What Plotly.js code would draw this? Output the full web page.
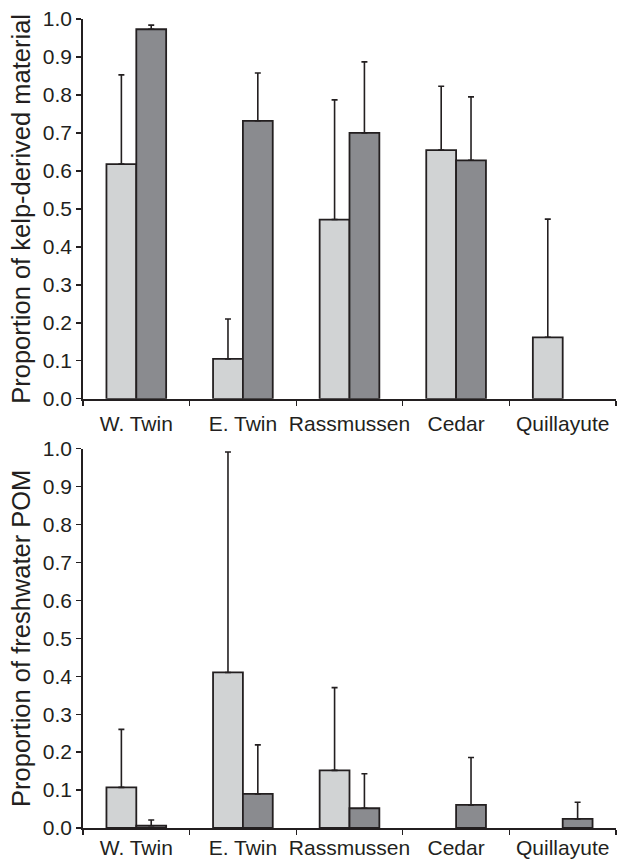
<!DOCTYPE html>
<html>
<head>
<meta charset="utf-8">
<script src="https://cdn.plot.ly/plotly-3.0.1.min.js"></script>
<style>html,body{margin:0;padding:0;background:#fff;}#chart{width:617px;height:863px;}</style>
</head>
<body>
<div id="chart"></div>
<script>
const sites = ["W. Twin", "E. Twin", "Rassmussen", "Cedar", "Quillayute"];

// Top panel: proportion of kelp-derived material
const kelpLight = [0.618, 0.105, 0.472, 0.655, 0.162];
const kelpLightErrTop = [0.853, 0.210, 0.787, 0.823, 0.473];
const kelpDark = [0.973, 0.732, 0.700, 0.628, null];
const kelpDarkErrTop = [0.984, 0.858, 0.887, 0.795, null];

// Bottom panel: proportion of freshwater POM
const fwLight = [0.107, 0.410, 0.152, null, null];
const fwLightErrTop = [0.260, 0.991, 0.370, null, null];
const fwDark = [0.006, 0.090, 0.052, 0.061, 0.024];
const fwDarkErrTop = [0.021, 0.219, 0.143, 0.186, 0.068];

const yTicks = [0, 0.1, 0.2, 0.3, 0.4, 0.5, 0.6, 0.7, 0.8, 0.9, 1.0];
const yTickText = ["0.0", "0.1", "0.2", "0.3", "0.4", "0.5", "0.6", "0.7", "0.8", "0.9", "1.0"];

const lightColor = "#d1d3d4";
const darkColor = "#8a8b8f";
const ink = "#231f20";

function diff(top, val) {
  return top.map((t, i) => (t == null || val[i] == null) ? null : +(t - val[i]).toFixed(4));
}

function bar(vals, errTop, color, xa, ya) {
  return {
    type: "bar", x: sites, y: vals, xaxis: xa, yaxis: ya,
    marker: {color: color, line: {color: ink, width: 1.8}},
    error_y: {type: "data", symmetric: false, array: diff(errTop, vals),
              arrayminus: vals.map(() => 0), color: ink, thickness: 1.6, width: 3},
    cliponaxis: false, showlegend: false, hoverinfo: "none"
  };
}

const data = [
  bar(kelpLight, kelpLightErrTop, lightColor, "x", "y"),
  bar(kelpDark, kelpDarkErrTop, darkColor, "x", "y"),
  bar(fwLight, fwLightErrTop, lightColor, "x2", "y2"),
  bar(fwDark, fwDarkErrTop, darkColor, "x2", "y2")
];

const fam = "Liberation Sans, Arial, sans-serif";

function xax(anchor, standoff) {
  return {
    anchor: anchor, type: "category", categoryarray: sites,
    showline: true, linecolor: ink, linewidth: 1.8,
    ticks: "outside", tickson: "boundaries", ticklen: 5, tickwidth: 1.3, tickcolor: ink,
    showgrid: false, zeroline: false, ticklabelstandoff: standoff, tickangle: 0,
    tickfont: {family: fam, size: 21, color: ink}
  };
}
function yax(anchor, domain, title) {
  return {
    anchor: anchor, domain: domain, range: [0, 1.0],
    tickvals: yTicks, ticktext: yTickText,
    showline: true, linecolor: ink, linewidth: 1.8,
    ticks: "outside", ticklen: 5, tickwidth: 1.3, tickcolor: ink,
    showgrid: false, zeroline: false,
    tickfont: {family: fam, size: 21, color: ink},
    title: {text: title, font: {family: fam, size: 25.5, color: ink}, standoff: 5}
  };
}

const layout = {
  width: 617, height: 863,
  margin: {l: 83, r: 1, t: 19, b: 35},
  paper_bgcolor: "#fff", plot_bgcolor: "#fff",
  font: {family: fam, size: 21, color: ink},
  barmode: "group", bargap: 0.44, bargroupgap: 0,
  xaxis: xax("y", 5),
  yaxis: yax("x", [0.5305, 1], "Proportion of kelp-derived material"),
  xaxis2: xax("y2", 0),
  yaxis2: yax("x2", [0, 0.469], "Proportion of freshwater POM")
};

Plotly.newPlot("chart", data, layout, {displayModeBar: false, staticPlot: true});
</script>
</body>
</html>
